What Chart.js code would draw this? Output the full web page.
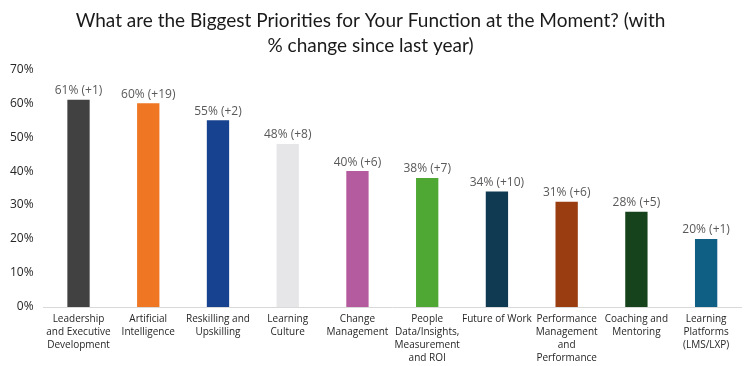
<!DOCTYPE html>
<html>
<head>
<meta charset="utf-8">
<script src="https://cdn.jsdelivr.net/npm/chart.js@4/dist/chart.umd.min.js"></script>
<style>
  html, body { margin: 0; padding: 0; background: #fff; overflow: hidden; }
  #wrap { width: 746px; height: 384px; }
</style>
</head>
<body>
<div id="wrap"><canvas id="grafico"></canvas></div>
<script>
// dados
const categorias = [
  ['Leadership', 'and Executive', 'Development'],
  ['Artificial', 'Intelligence'],
  ['Reskilling and', 'Upskilling'],
  ['Learning', 'Culture'],
  ['Change', 'Management'],
  ['People', 'Data/Insights,', 'Measurement', 'and ROI'],
  ['Future of Work'],
  ['Performance', 'Management', 'and', 'Performance', 'Support'],
  ['Coaching and', 'Mentoring'],
  ['Learning', 'Platforms', '(LMS/LXP)']
];
const valores = [61, 60, 55, 48, 40, 38, 34, 31, 28, 20];
const variacao = [1, 19, 2, 8, 6, 7, 10, 6, 5, 1];
const cores = ['#414141', '#EF7622', '#17428F', '#E6E6E8', '#B45B9F',
               '#4EA833', '#0F3A51', '#9A3E12', '#16431B', '#0F5F84'];

const fonte = "'Open Sans', 'DejaVu Sans', sans-serif";

// escreve "61% (+1)" em cima de cada barra
const rotulosBarras = {
  id: 'rotulosBarras',
  afterDatasetsDraw(chart) {
    const ctx = chart.ctx;
    const meta = chart.getDatasetMeta(0);
    ctx.save();
    ctx.font = '12px ' + fonte;
    ctx.fillStyle = '#595959';
    ctx.textAlign = 'center';
    ctx.textBaseline = 'bottom';
    meta.data.forEach(function(bar, i) {
      ctx.fillText(valores[i] + '% (+' + variacao[i] + ')', bar.x, bar.y - 3);
    });
    ctx.restore();
  }
};

const ctx = document.getElementById('grafico').getContext('2d');
new Chart(ctx, {
  type: 'bar',
  data: {
    labels: categorias,
    datasets: [{
      data: valores,
      backgroundColor: cores,
      barPercentage: 0.32,
      categoryPercentage: 1.0
    }]
  },
  options: {
    responsive: true,
    maintainAspectRatio: false,
    animation: false,
    layout: { padding: { left: 0, right: 5, top: 8 } },
    plugins: {
      legend: { display: false },
      tooltip: { enabled: false },
      title: {
        display: true,
        text: ['What are the Biggest Priorities for Your Function at the Moment? (with',
               '% change since last year)'],
        color: '#1a1a1a',
        font: { family: "Lato, 'Open Sans', sans-serif", size: 19, weight: 'normal', lineHeight: 1.32 },
        padding: { top: 0, bottom: 11 }
      }
    },
    scales: {
      x: {
        grid: { display: false, drawTicks: false },
        border: { display: true, color: '#D9D9D9', width: 1 },
        ticks: {
          color: '#262626',
          font: { family: fonte, size: 10, lineHeight: 1.3 },
          maxRotation: 0,
          autoSkip: false,
          padding: 6
        }
      },
      y: {
        min: 0,
        max: 70,
        grid: { display: false, drawTicks: false },
        border: { display: false },
        ticks: {
          stepSize: 10,
          color: '#262626',
          font: { family: fonte, size: 12 },
          padding: 10,
          callback: function(v) { return v + '%'; }
        }
      }
    }
  },
  plugins: [rotulosBarras]
});
</script>
</body>
</html>
